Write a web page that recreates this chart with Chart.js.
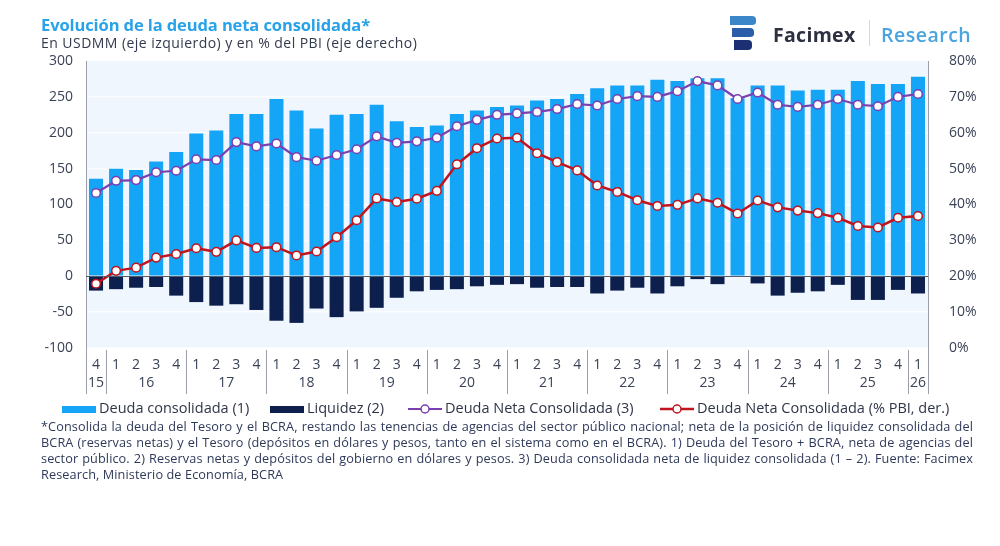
<!DOCTYPE html>
<html>
<head>
<meta charset="utf-8">
<script src="https://cdn.jsdelivr.net/npm/chart.js@4.4.1/dist/chart.umd.min.js"></script>
<style>
  html, body { margin: 0; padding: 0; background: #fff; }
  body { width: 1000px; height: 546px; position: relative; overflow: hidden; font-family: "Open Sans", "Noto Sans", sans-serif; color: #2f3548; }
  #wrap { position: absolute; left: 0; top: 0; width: 1000px; height: 546px; }
  .title { position: absolute; left: 41px; top: 13px; font-size: 16.5px; font-weight: 700; color: #28a2e8; letter-spacing: -0.1px; }
  .subtitle { position: absolute; left: 41px; top: 33px; font-size: 14px; letter-spacing: 0.45px; color: #333a4d; }
  .logo { position: absolute; left: 728px; top: 14px; height: 38px; }
  .logo .word { position: absolute; top: 7px; font-size: 19.5px; font-weight: 700; white-space: nowrap; }
  .legend { position: absolute; top: 398px; left: 62px; font-size: 14.5px; color: #2f3548; white-space: nowrap; }
  .legend span.item { position: absolute; top: 0; }
  .note { position: absolute; left: 41px; top: 418px; width: 932px; font-size: 12.7px; letter-spacing: 0.1px; line-height: 16px; color: #2f3a5a; }
  .note div { text-align: justify; text-align-last: justify; }
  .note div.last { text-align-last: left; }
</style>
</head>
<body>
<div id="wrap"><canvas id="chart" width="1000" height="546"></canvas></div>

<div class="title">Evolución de la deuda neta consolidada*</div>
<div class="subtitle">En USDMM (eje izquierdo) y en % del PBI (eje derecho)</div>

<div class="logo">
  <svg width="32" height="38" viewBox="0 0 32 38" style="position:absolute;left:0;top:0">
    <path d="M2 2 H24 Q28 2 28 6 V8 Q28 11 24 11 H2 Z" fill="#3a86c8"/>
    <path d="M4 14 H22 Q26 14 26 18 V20 Q26 23 22 23 H4 Z" fill="#2a5ea8"/>
    <path d="M6 26 H20 Q24 26 24 30 V32 Q24 36 20 36 H6 Z" fill="#1d2f73"/>
  </svg>
  <span class="word" style="left:45px;color:#2c3040;letter-spacing:0.3px;">Facimex</span>
  <span style="position:absolute;left:141px;top:6px;width:1px;height:26px;background:#d5d8de;"></span>
  <span class="word" style="left:153px;color:#4aa4df;font-weight:600;letter-spacing:0.5px;">Research</span>
</div>

<div class="legend">
  <span class="item" style="left:0"><span style="display:inline-block;width:34px;height:7px;background:#14a5f6;vertical-align:middle;margin-right:3px;"></span>Deuda consolidada (1)</span>
  <span class="item" style="left:208px"><span style="display:inline-block;width:34px;height:7px;background:#0c1f4d;vertical-align:middle;margin-right:3px;"></span>Liquidez (2)</span>
  <span class="item" style="left:346px"><svg width="34" height="12" style="vertical-align:middle;margin-right:3px"><line x1="0" y1="6" x2="34" y2="6" stroke="#7a3fb0" stroke-width="2"/><circle cx="17" cy="6" r="4" fill="#fff" stroke="#7a3fb0" stroke-width="1.5"/></svg>Deuda Neta Consolidada (3)</span>
  <span class="item" style="left:598px"><svg width="34" height="12" style="vertical-align:middle;margin-right:3px"><line x1="0" y1="6" x2="34" y2="6" stroke="#c0141f" stroke-width="2.5"/><circle cx="17" cy="6" r="4" fill="#fff" stroke="#c0141f" stroke-width="1.5"/></svg>Deuda Neta Consolidada (% PBI, der.)</span>
</div>

<div class="note">
  <div>*Consolida la deuda del Tesoro y el BCRA, restando las tenencias de agencias del sector público nacional; neta de la posición de liquidez consolidada del</div>
  <div>BCRA (reservas netas) y el Tesoro (depósitos en dólares y pesos, tanto en el sistema como en el BCRA). 1) Deuda del Tesoro + BCRA, neta de agencias del</div>
  <div>sector público. 2) Reservas netas y depósitos del gobierno en dólares y pesos. 3) Deuda consolidada neta de liquidez consolidada (1 – 2). Fuente: Facimex</div>
  <div class="last">Research, Ministerio de Economía, BCRA</div>
</div>

<script>
// trimestres (trimestre, año)
const quarters = ['4',
  '1','2','3','4', '1','2','3','4', '1','2','3','4', '1','2','3','4', '1','2','3','4',
  '1','2','3','4', '1','2','3','4', '1','2','3','4', '1','2','3','4', '1','2','3','4',
  '1'];
const years = ['15',
  '16','16','16','16', '17','17','17','17', '18','18','18','18', '19','19','19','19', '20','20','20','20',
  '21','21','21','21', '22','22','22','22', '23','23','23','23', '24','24','24','24', '25','25','25','25',
  '26'];

// USDMM
const deudaConsolidada = [136,
  150, 148, 160, 173,  199, 203, 226, 226,  247, 231, 206, 225,
  226, 239, 216, 208,  210, 226, 231, 236,  238, 245, 247, 254,
  262, 266, 266, 274,  272, 276, 276, 248,  266, 266, 259, 260,
  260, 272, 268, 268,  278];
const liquidez = [-20,
  -18, -16, -15, -27,  -36, -41, -39, -47,  -62, -65, -45, -57,
  -49, -44, -30, -21,  -19, -18, -14, -12,  -11, -16, -15, -15,
  -24, -20, -16, -24,  -14, -4, -11, 1,  -10, -27, -23, -21,
  -12, -33, -33, -19,  -24];
const deudaNeta = [116,
  133, 134, 145, 147,  163, 162, 187, 181,  185, 166, 161, 169,
  177, 195, 186, 188,  193, 209, 218, 225,  227, 229, 233, 240,
  238, 247, 251, 250,  258, 272, 266, 247,  256, 239, 236, 239,
  247, 239, 237, 250,  254];
// % del PBI
const deudaNetaPBI = [17.9,
  21.5, 22.4, 25.2, 26.2,  27.8, 26.8, 30.0, 27.9,  28.1, 25.8, 26.9, 30.9,
  35.6, 41.7, 40.7, 41.6,  43.8, 51.2, 55.7, 58.4,  58.6, 54.3, 51.8, 49.5,
  45.3, 43.5, 41.2, 39.6,  39.9, 41.7, 40.5, 37.5,  41.1, 39.2, 38.3, 37.6,
  36.3, 34.0, 33.6, 36.3,  36.8];

const leftTicks = [-100, -50, 0, 50, 100, 150, 200, 250, 300];
const rightTicks = [0, 10, 20, 30, 40, 50, 60, 70, 80];

const textColor = '#3a4256';
const tickFont = { family: '"Open Sans", "Noto Sans", sans-serif', size: 14 };

const categoryAxisPlugin = {
  id: 'categoryAxis',
  beforeDraw(chart) {
    const { ctx, chartArea } = chart;
    ctx.save();
    ctx.fillStyle = '#f0f6fd';
    ctx.fillRect(chartArea.left, chartArea.top, chartArea.right - chartArea.left, chartArea.bottom - chartArea.top);
    ctx.restore();
  },
  afterDatasetsDraw(chart) {
    const { ctx, chartArea, scales } = chart;
    const x = scales.x;
    const step = x.getPixelForValue(1) - x.getPixelForValue(0);
    ctx.save();
    ctx.strokeStyle = '#9a9fab';
    ctx.lineWidth = 1;
    ctx.beginPath();
    ctx.moveTo(chartArea.left + 0.5, chartArea.top);
    ctx.lineTo(chartArea.left + 0.5, 394);
    ctx.moveTo(chartArea.right + 0.5, chartArea.top);
    ctx.lineTo(chartArea.right + 0.5, 394);
    ctx.stroke();
    // separadores y etiquetas de año
    ctx.fillStyle = textColor;
    ctx.font = '14px "Open Sans", "Noto Sans", sans-serif';
    ctx.textAlign = 'center';
    ctx.textBaseline = 'middle';
    let start = 0;
    for (let i = 1; i <= years.length; i++) {
      if (i === years.length || years[i] !== years[start]) {
        const a = x.getPixelForValue(start) - step / 2;
        const b = x.getPixelForValue(i - 1) + step / 2;
        ctx.fillText(years[start], (a + b) / 2, 383);
        if (i < years.length) {
          ctx.beginPath();
          ctx.moveTo(Math.round(b) + 0.5, 350);
          ctx.lineTo(Math.round(b) + 0.5, 394);
          ctx.stroke();
        }
        start = i;
      }
    }
    // línea del cero
    const y0 = scales.y.getPixelForValue(0);
    ctx.strokeStyle = '#555b68';
    ctx.beginPath();
    ctx.moveTo(chartArea.left, Math.round(y0) + 0.5);
    ctx.lineTo(chartArea.right, Math.round(y0) + 0.5);
    ctx.stroke();
    ctx.restore();
  }
};

new Chart(document.getElementById('chart'), {
  type: 'bar',
  data: {
    labels: quarters,
    datasets: [
      {
        type: 'line',
        label: 'Deuda Neta Consolidada (% PBI, der.)',
        data: deudaNetaPBI,
        yAxisID: 'y1',
        borderColor: '#c0141f',
        borderWidth: 2.5,
        pointRadius: 4.3,
        pointBorderWidth: 1.5,
        pointBackgroundColor: '#ffffff',
        pointBorderColor: '#c0141f',
        tension: 0,
        order: 1
      },
      {
        type: 'line',
        label: 'Deuda Neta Consolidada (3)',
        data: deudaNeta,
        yAxisID: 'y',
        borderColor: '#7a3fb0',
        borderWidth: 2.2,
        pointRadius: 4.3,
        pointBorderWidth: 1.5,
        pointBackgroundColor: '#ffffff',
        pointBorderColor: '#7a3fb0',
        tension: 0,
        order: 2
      },
      {
        label: 'Liquidez (2)',
        data: liquidez,
        yAxisID: 'y',
        backgroundColor: '#0c1f4d',
        barPercentage: 0.7,
        categoryPercentage: 1,
        order: 3
      },
      {
        label: 'Deuda consolidada (1)',
        data: deudaConsolidada,
        yAxisID: 'y',
        backgroundColor: '#14a5f6',
        barPercentage: 0.7,
        categoryPercentage: 1,
        order: 4
      }
    ]
  },
  options: {
    responsive: false,
    animation: false,
    layout: { padding: { top: 61, bottom: 0, left: 0, right: 0 } },
    plugins: { legend: { display: false }, tooltip: { enabled: false } },
    scales: {
      x: {
        stacked: true,
        grid: { display: false },
        border: { display: false },
        ticks: { color: textColor, font: tickFont, padding: 1, maxRotation: 0, autoSkip: false },
        afterFit(scale) { scale.height = 198; }
      },
      y: {
        position: 'left',
        min: -100,
        max: 300,
        afterBuildTicks(scale) { scale.ticks = leftTicks.map(v => ({ value: v })); },
        grid: { color: '#fafcff', lineWidth: 1.5, drawTicks: false },
        border: { display: false },
        ticks: { color: textColor, font: tickFont, padding: 13 },
        afterFit(scale) { scale.width = 86; }
      },
      y1: {
        position: 'right',
        min: 0,
        max: 80,
        afterBuildTicks(scale) { scale.ticks = rightTicks.map(v => ({ value: v })); },
        grid: { display: false },
        border: { display: false },
        ticks: {
          color: textColor,
          font: tickFont,
          padding: 13,
          callback: v => v + '%'
        },
        afterFit(scale) { scale.width = 72; }
      }
    }
  },
  plugins: [categoryAxisPlugin]
});
</script>
</body>
</html>
